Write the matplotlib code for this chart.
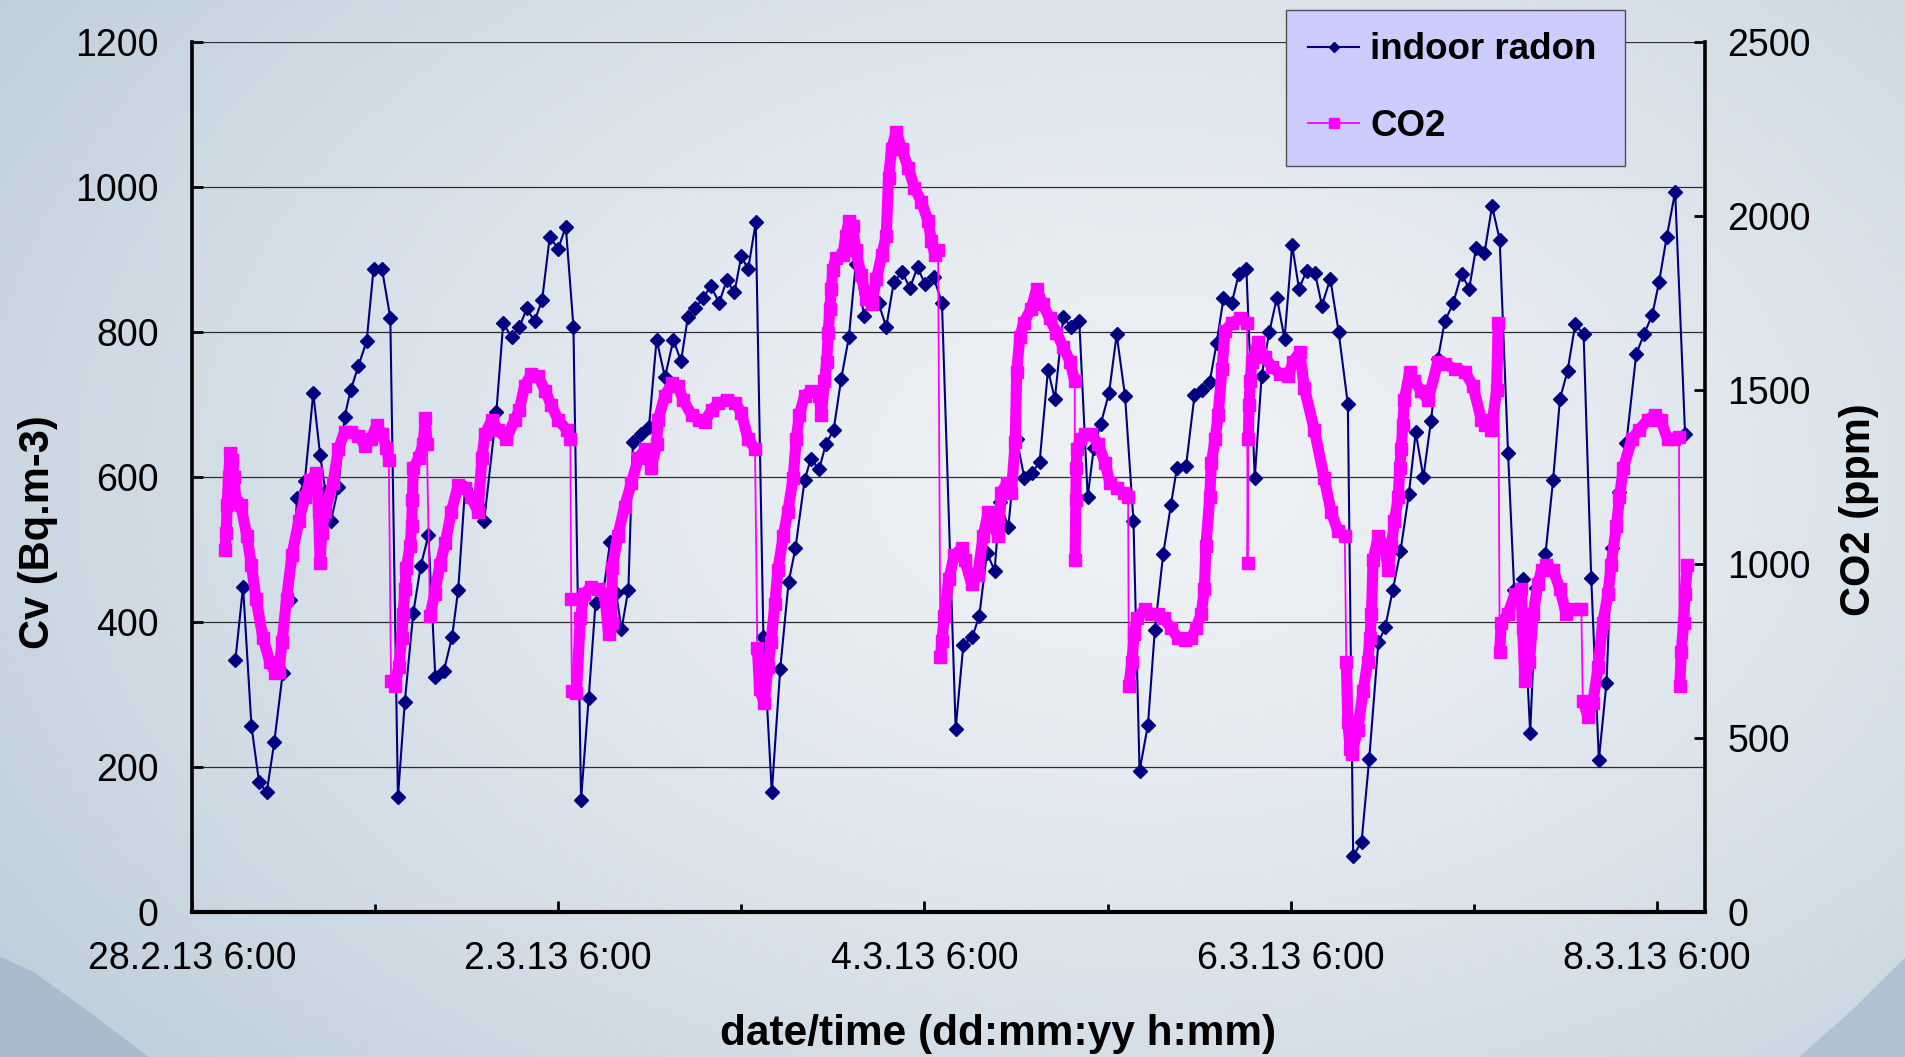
"""
Indoor radon vs CO2 time series, 28.2.13 - 8.3.13 (dual axis, Excel-like look).
"""
import numpy as np
import matplotlib
matplotlib.use("Agg")
import matplotlib.pyplot as plt
from matplotlib.patches import Polygon
from matplotlib.collections import LineCollection

plt.rcParams["font.family"] = ["Liberation Sans", "DejaVu Sans"]

# time in hours after 28.2.13 6:00
rad_hours = [5.7, 6.7, 7.8, 8.8, 9.8, 10.8, 11.9, 12.8, 13.8, 14.8,
             15.9, 16.8, 17.5, 18.2, 19.2, 20.0, 20.8, 21.8, 22.9, 23.8,
             24.9, 26.0, 27.0, 27.9, 29.0, 30.0, 31.0, 31.9, 33.0, 34.1,
             34.9, 35.8, 36.8, 37.6, 38.3, 39.9, 40.8, 41.9, 42.9, 43.9,
             44.9, 45.9, 46.9, 48.0, 49.0, 50.0, 51.0, 52.0, 52.9, 53.9,
             54.8, 55.6, 56.3, 57.2, 57.8, 58.9, 59.9, 60.9, 62.0, 63.1,
             64.1, 65.0, 65.9, 67.0, 68.0, 69.1, 70.1, 71.1, 72.0, 72.9,
             73.9, 74.9, 76.0, 77.1, 78.2, 79.1, 80.3, 81.1, 82.2, 83.1,
             84.1, 85.1, 86.1, 87.0, 88.1, 89.0, 90.0, 91.0, 92.0, 93.1,
             94.1, 95.1, 96.1, 97.2, 98.3, 100.1, 101.1, 102.3, 103.2, 104.2,
             105.2, 105.9, 107.0, 108.1, 109.1, 110.1, 111.1, 112.2, 113.1, 114.2,
             115.2, 116.3, 117.4, 118.2, 119.1, 120.2, 121.2, 122.3, 123.4, 124.2,
             125.3, 126.2, 127.3, 128.3, 129.1, 130.3, 131.4, 132.4, 133.4, 134.3,
             135.2, 136.3, 137.2, 138.2, 139.3, 140.2, 141.2, 142.2, 143.2, 144.2,
             145.1, 146.1, 147.2, 148.1, 149.2, 150.3, 151.5, 152.2, 153.3, 154.3,
             155.5, 156.4, 157.4, 158.4, 159.5, 160.4, 161.4, 162.4, 163.3, 164.2,
             165.3, 166.4, 167.4, 168.3, 169.4, 170.4, 171.4, 172.5, 173.3, 174.4,
             175.4, 176.2, 177.4, 178.4, 179.3, 180.3, 181.3, 182.4, 183.4, 184.4,
             185.4, 186.1, 187.0, 188.0, 189.3, 190.3, 191.4, 192.3, 193.3, 194.4,
             195.7]
radon = [348, 449, 257, 179, 165, 235, 330, 430, 572, 595,
         716, 631, 580, 539, 586, 683, 720, 753, 788, 887,
         888, 820, 158, 290, 412, 478, 520, 324, 332, 380,
         445, 585, 570, 560, 540, 690, 813, 793, 807, 833,
         815, 845, 932, 915, 946, 808, 155, 295, 427, 440,
         510, 440, 390, 445, 648, 660, 669, 790, 738, 790,
         760, 821, 833, 847, 864, 841, 872, 855, 905, 887,
         952, 379, 165, 335, 455, 502, 596, 625, 611, 646,
         665, 736, 793, 894, 822, 850, 840, 807, 870, 883,
         861, 890, 866, 876, 841, 253, 368, 380, 409, 496,
         471, 566, 531, 653, 599, 606, 621, 748, 708, 821,
         808, 816, 573, 640, 673, 716, 797, 712, 540, 195,
         258, 389, 494, 561, 613, 616, 713, 720, 732, 785,
         847, 841, 880, 888, 599, 740, 800, 848, 791, 920,
         860, 885, 882, 837, 874, 800, 701, 77, 97, 211,
         372, 393, 445, 498, 577, 662, 600, 678, 763, 815,
         840, 881, 860, 916, 909, 974, 928, 633, 445, 459,
         247, 447, 494, 596, 708, 747, 811, 797, 461, 210,
         316, 502, 580, 647, 770, 797, 824, 870, 932, 994,
         660]

co2_hours = [4.3, 4.5, 4.6, 4.8, 5.0, 5.3, 5.5, 5.8, 6.4, 7.2,
             7.8, 8.4, 9.3, 10.2, 10.9, 11.4, 11.8, 12.4, 13.1, 14.0,
             14.8, 15.5, 16.3, 16.6, 16.8, 17.0, 17.4, 18.5, 19.2, 20.0,
             20.9, 21.8, 22.7, 23.5, 24.2, 24.9, 25.5, 25.8, 26.1, 26.6,
             27.1, 27.5, 27.7, 27.9, 28.1, 28.6, 28.8, 28.9, 29.0, 29.7,
             30.3, 30.6, 30.8, 31.2, 31.8, 32.5, 33.2, 34.0, 34.9, 35.8,
             36.6, 37.5, 38.0, 38.4, 39.3, 40.1, 41.2, 42.3, 42.9, 43.6,
             44.5, 45.4, 46.3, 47.1, 48.0, 49.1, 49.6, 49.7, 49.8, 50.4,
             50.9, 51.4, 52.3, 53.2, 54.1, 54.6, 55.0, 55.1, 55.8, 56.7,
             57.6, 58.5, 59.4, 60.2, 60.9, 61.1, 62.0, 62.9, 63.7, 64.4,
             65.5, 66.4, 67.2, 68.1, 69.0, 70.1, 71.2, 72.0, 72.9, 73.8,
             74.1, 74.4, 75.0, 75.5, 75.9, 76.4, 76.8, 77.5, 78.1, 78.8,
             79.2, 79.6, 80.3, 81.2, 82.2, 82.5, 82.9, 83.2, 83.4, 83.6,
             83.8, 84.0, 84.4, 85.3, 85.7, 86.1, 86.6, 87.0, 87.7, 88.4,
             89.1, 89.7, 90.4, 91.0, 91.3, 91.7, 92.3, 93.0, 93.9, 94.7,
             95.6, 96.5, 96.9, 97.4, 97.8, 98.1, 98.3, 98.6, 99.2, 99.9,
             100.9, 101.3, 102.2, 103.0, 103.7, 104.4, 105.0, 105.7, 106.1, 106.8,
             107.4, 107.9, 108.1, 108.5, 109.0, 110.0, 110.7, 111.5, 112.4, 113.3,
             114.2, 115.1, 115.7, 115.75, 115.85, 115.9, 116.0, 116.4, 117.0, 117.9,
             118.8, 119.7, 120.3, 121.2, 122.1, 122.7, 122.8, 123.2, 123.5, 123.9,
             124.9, 125.7, 126.6, 127.4, 128.3, 129.2, 130.1, 131.0, 131.6, 132.3,
             132.7, 132.9, 133.4, 133.6, 134.1, 134.5, 135.0, 135.4, 136.3, 137.4,
             138.3, 138.35, 138.45, 138.55, 138.7, 138.9, 139.7, 140.6, 141.5, 142.6,
             143.7, 144.3, 145.2, 145.8, 147.1, 148.4, 149.3, 150.2, 151.1, 151.3,
             151.5, 151.8, 152.0, 152.8, 153.5, 154.1, 154.4, 154.6, 154.8, 155.5,
             156.3, 156.8, 157.2, 157.6, 158.1, 158.3, 158.5, 158.7, 158.9, 159.6,
             160.2, 161.1, 162.0, 163.3, 164.2, 165.5, 166.8, 167.9, 169.0, 169.5,
             170.3, 171.0, 171.2, 171.4, 171.6, 172.5, 173.4, 174.2, 174.4, 174.7,
             175.3, 175.8, 176.4, 176.9, 177.5, 178.4, 179.3, 180.1, 181.0, 182.1,
             182.3, 183.0, 183.6, 184.3, 184.9, 185.6, 186.0, 186.7, 187.1, 187.6,
             188.7, 189.7, 190.8, 191.7, 192.5, 193.4, 194.3, 194.9, 195.0, 195.2,
             195.5, 195.7, 196.0]
co2 = [1040, 1090, 1170, 1250, 1320, 1300, 1250, 1175, 1170, 1081,
       997, 900, 789, 719, 688, 690, 775, 900, 1025, 1123,
       1192, 1241, 1262, 1150, 1004, 1090, 1150, 1234, 1331, 1380,
       1380, 1370, 1340, 1360, 1400, 1375, 1335, 1300, 663, 650,
       705, 789, 858, 928, 990, 1053, 1109, 1185, 1276, 1304,
       1346, 1420, 1345, 851, 914, 998, 1060, 1151, 1227, 1220,
       1192, 1151, 1304, 1373, 1415, 1387, 1360, 1415, 1443, 1513,
       1547, 1540, 1499, 1457, 1415, 1387, 1360, 900, 636, 630,
       844, 914, 935, 928, 914, 800, 830, 990, 1081, 1165,
       1234, 1304, 1331, 1276, 1345, 1415, 1485, 1520, 1513, 1471,
       1429, 1415, 1410, 1443, 1464, 1471, 1464, 1436, 1359, 1332,
       760, 640, 600, 705, 775, 886, 984, 1081, 1151, 1248,
       1359, 1429, 1485, 1499, 1485, 1429, 1526, 1582, 1666, 1735,
       1791, 1847, 1881, 1888, 1944, 1986, 1972, 1902, 1832, 1763,
       1749, 1819, 1888, 1944, 2111, 2195, 2243, 2195, 2139, 2083,
       2042, 1986, 1930, 1888, 1902, 733, 780, 850, 956, 1025,
       1046, 1011, 942, 970, 1081, 1151, 1109, 1081, 1206, 1234,
       1206, 1350, 1554, 1652, 1694, 1735, 1791, 1749, 1707, 1666,
       1624, 1582, 1526, 1011, 1185, 1276, 1331, 1359, 1373, 1373,
       1345, 1290, 1234, 1220, 1206, 1192, 650, 720, 800, 844,
       872, 858, 858, 844, 816, 789, 782, 789, 816, 858,
       930, 1053, 1192, 1290, 1359, 1429, 1560, 1670, 1694, 1707,
       1694, 1004, 1359, 1457, 1526, 1582, 1638, 1596, 1568, 1547,
       1540, 1582, 1610, 1506, 1387, 1248, 1151, 1095, 1081, 719,
       545, 470, 455, 524, 636, 719, 789, 858, 1011, 1081,
       1053, 984, 1053, 1123, 1192, 1276, 1331, 1401, 1471, 1554,
       1526, 1499, 1471, 1582, 1575, 1561, 1554, 1513, 1415, 1400,
       1387, 1500, 1693, 747, 830, 858, 914, 928, 817, 663,
       719, 858, 942, 984, 998, 984, 928, 858, 872, 872,
       608, 560, 600, 705, 830, 914, 998, 1109, 1192, 1276,
       1359, 1387, 1415, 1429, 1415, 1359, 1359, 1366, 650, 747,
       830, 914, 998]

tick_hours = [0, 48, 96, 144, 192]
tick_labels = ["28.2.13 6:00", "2.3.13 6:00", "4.3.13 6:00", "6.3.13 6:00", "8.3.13 6:00"]
minor_hours = [24, 72, 120, 168]

NAVY = "#000080"
PINK = "#FF00FF"

fig = plt.figure(figsize=(19.06, 10.57), dpi=100)

# slide-style background: soft radial gradient plus darker corner wedges
bg = fig.add_axes([0, 0, 1, 1], zorder=-10)
gy, gx = np.mgrid[0:1:265j, 0:1:477j]
d = np.sqrt(((gx - 0.6) / 0.8) ** 2 + ((gy - 0.55) / 0.95) ** 2)
t = np.clip(d, 0, 1)[..., None] ** 1.4
c0 = np.array([0.935, 0.948, 0.958])
c1 = np.array([0.72, 0.79, 0.85])
bg.imshow(c0 * (1 - t) + c1 * t, extent=[0, 1, 0, 1], origin="lower", aspect="auto")
bg.add_patch(Polygon([(0, 0), (0.078, 0), (0.045, 0.045), (0.018, 0.08), (0, 0.095)],
                     closed=True, color="#a9bccd", lw=0))
bg.add_patch(Polygon([(1, 0), (0.944, 0), (0.972, 0.045), (1, 0.095)],
                     closed=True, color="#b0c2d1", lw=0))
bg.set_xlim(0, 1)
bg.set_ylim(0, 1)
bg.axis("off")

ax = fig.add_axes([0.1007, 0.1372, 0.7938, 0.8226])
ax.patch.set_alpha(0)
ax2 = ax.twinx()
ax2.patch.set_alpha(0)

l1, = ax.plot(rad_hours, radon, color=NAVY, lw=1.5, marker="D", ms=7,
              mec=NAVY, mfc=NAVY, label="indoor radon", zorder=3)

# CO2 was logged much more often than shown here: a broad band along the
# gradual parts gives the dense-marker look, sudden jumps stay thin
co2_pts = np.column_stack([co2_hours, co2])
steps = np.abs(np.diff(co2_pts[:, 1]))
band = [co2_pts[i:i + 2] for i in range(len(steps)) if steps[i] < 250]
ax2.add_collection(LineCollection(band, colors=PINK, linewidths=8,
                                  capstyle="round", joinstyle="round", zorder=2.9))
l2, = ax2.plot(co2_hours, co2, color=PINK, lw=1.3, marker="s", ms=9,
               mec=PINK, mfc=PINK, label="CO2", zorder=3)

ax.set_xlim(0, 198.3)
ax.set_ylim(0, 1200)
ax2.set_ylim(0, 2500)
ax.set_yticks(range(0, 1201, 200))
ax2.set_yticks(range(0, 2501, 500))
ax.set_xticks(tick_hours)
ax.set_xticklabels(tick_labels)
ax.set_xticks(minor_hours, minor=True)

ax.yaxis.grid(True, color="#2e2e2e", lw=0.9)
ax.set_axisbelow(True)

for a in (ax, ax2):
    a.spines["top"].set_visible(False)
ax2.spines["left"].set_visible(False)
ax2.spines["bottom"].set_visible(False)
ax.spines["right"].set_visible(False)
ax.spines["left"].set_linewidth(2.6)
ax.spines["bottom"].set_linewidth(3)
ax2.spines["right"].set_linewidth(2.6)

ax.tick_params(axis="y", direction="in", length=8, width=2, labelsize=27, pad=24)
ax2.tick_params(axis="y", direction="in", length=8, width=2, labelsize=27, pad=16)
ax.tick_params(axis="x", which="major", direction="in", length=8, width=2,
               labelsize=27, pad=21)
ax.tick_params(axis="x", which="minor", direction="in", length=6, width=2)

ax.set_ylabel("Cv (Bq.m-3)", fontsize=30, fontweight="bold")
ax.yaxis.label.set_verticalalignment("center")
ax.yaxis.set_label_coords(-0.102, 0.437)
ax2.set_ylabel("CO2 (ppm)", fontsize=30, fontweight="bold", rotation=90)
ax2.yaxis.label.set_verticalalignment("center")
ax2.yaxis.set_label_coords(1.102, 0.463)
ax.set_xlabel("date/time (dd:mm:yy h:mm)", fontsize=30.5, fontweight="bold")
ax.xaxis.label.set_verticalalignment("center")
ax.xaxis.set_label_coords(0.533, -0.14)

leg = ax2.legend([l1, l2], ["indoor radon", "CO2"], loc="upper left",
                 bbox_to_anchor=(0.723, 1.037, 0.224, 0), mode="expand",
                 prop={"weight": "bold", "size": 26.5}, frameon=True,
                 fancybox=False, framealpha=1, borderpad=0.6, labelspacing=1.12,
                 handlelength=1.4, handletextpad=0.3, borderaxespad=0,
                 markerscale=0.8)
leg.get_frame().set_facecolor("#CCCCFF")
leg.get_frame().set_edgecolor("#505050")
leg.get_frame().set_linewidth(1.0)

fig.savefig("out.png", dpi=100)
